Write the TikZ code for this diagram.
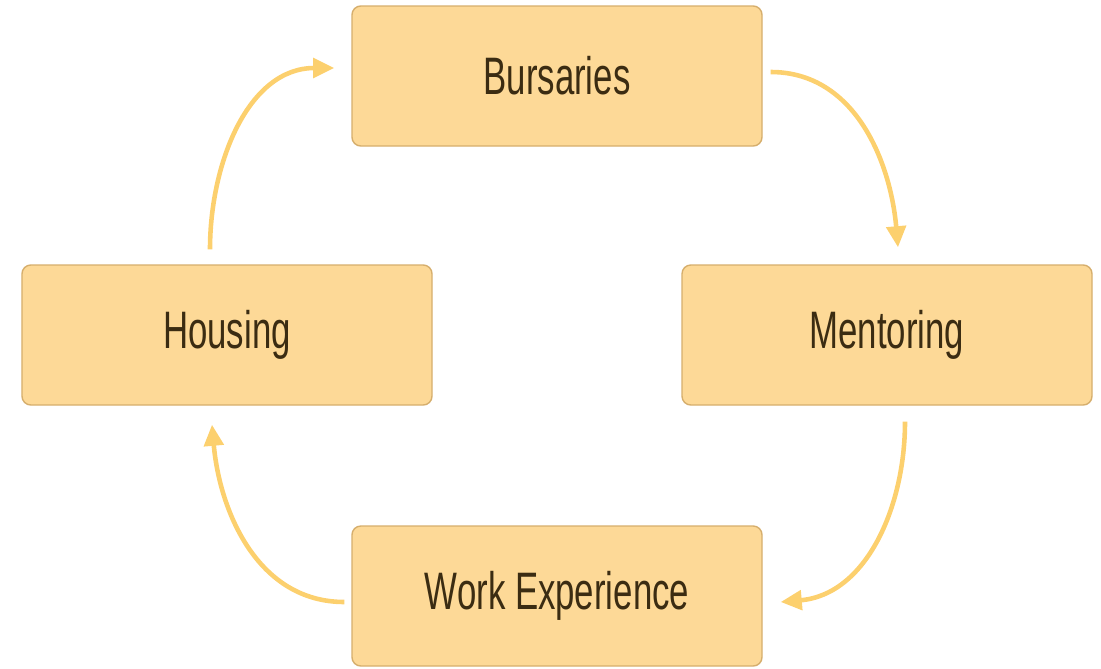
\documentclass[tikz,border=0pt]{standalone}
\usepackage{fontspec}
\setmainfont{Liberation Sans}
\usetikzlibrary{positioning,arrows.meta}
\definecolor{boxfill}{HTML}{FDD997}
\definecolor{boxline}{HTML}{D6AE6C}
\definecolor{arrowcol}{HTML}{FCD06E}
\definecolor{textcol}{HTML}{3B2C12}
\newcommand{\narrowtext}[1]{\scalebox{0.66}[1]{#1}}
\tikzset{
	stage/.style={draw=boxline, fill=boxfill, thick, rounded corners=5pt, minimum width=8.2cm, minimum height=2.8cm, text=textcol, font=\fontsize{30}{34}\selectfont},
	cycle/.style={arrowcol, line width=2.6pt, -{Triangle[length=12pt, width=11pt]}}
}
\begin{document}
\begin{tikzpicture}
		\useasboundingbox (0,0) rectangle (22.02,-13.36);
		% boxes
		\node[stage] (bursaries) at (11.14,-1.52) {\narrowtext{Bursaries}};
		\node[stage] (housing) at (4.54,-6.70) {\narrowtext{Housing}};
		\node[stage] (mentoring) at (17.74,-6.70) {\narrowtext{Mentoring}};
		\node[stage] (work) at (11.14,-11.92) {\narrowtext{Work Experience}};
		% arrows
		\draw[cycle] ([shift={(0.16,0.08)}]bursaries.east) to[out=0, in=95] ([shift={(0.22,0.34)}]mentoring.north);
		\draw[cycle] ([shift={(0.36,-0.32)}]mentoring.south) to[out=-90, in=5] ([shift={(0.36,-0.12)}]work.east);
		\draw[cycle] ([shift={(-0.14,-0.12)}]work.west) to[out=180, in=-85] ([shift={(-0.3,-0.38)}]housing.south);
		\draw[cycle] ([shift={(-0.34,0.3)}]housing.north) to[out=90, in=180] ([shift={(-0.34,0.16)}]bursaries.west);
		\end{tikzpicture}
\end{document}
